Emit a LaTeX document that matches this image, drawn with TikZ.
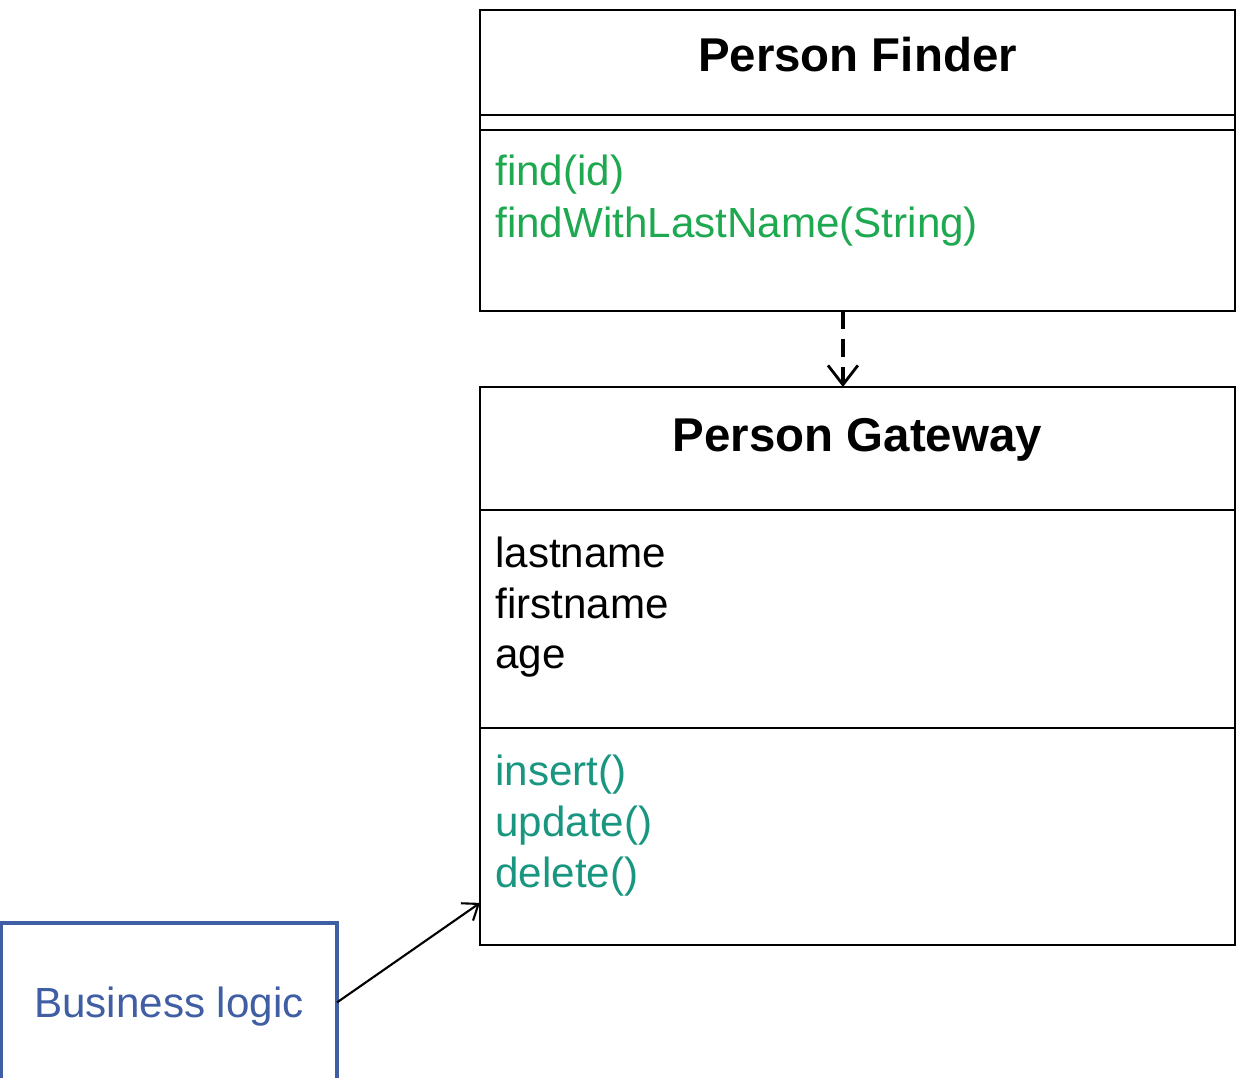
\documentclass[tikz,border=0pt]{standalone}
\usepackage{fontspec}
\setmainfont{Liberation Sans}
\usetikzlibrary{positioning,arrows.meta}

\definecolor{opgreen}{RGB}{30,168,80}
\definecolor{opteal}{RGB}{24,150,128}
\definecolor{logicblue}{RGB}{64,94,164}

\tikzset{
    part/.style={draw, line width=1.4pt, rectangle, inner sep=0pt, outer sep=0pt,
        minimum width=15.1cm},
    title/.style={anchor=base, font=\fontsize{27}{32}\selectfont\bfseries},
    entry/.style={anchor=base west, inner sep=0pt, font=\fontsize{24}{29}\selectfont},
}

\begin{document}
\begin{tikzpicture}[x=0.02cm, y=-0.02cm]

% Fix the page size
\useasboundingbox (0,0) rectangle (1242,1078);

% ===== Person Finder =====
\node[part, minimum height=2.1cm, anchor=north west] (finderTitle) at (480,10) {};
\node[part, minimum height=0.3cm, below=0cm of finderTitle] (finderAttrs) {};
\node[part, minimum height=3.62cm, below=0cm of finderAttrs] (finderOps) {};

% Title
\node[title] (finderName) at (857.5,72) {Person Finder};

% Operations
\node[entry, text=opgreen] (opFind) at (495,186) {find(id)};
\node[entry, text=opgreen] (opFindLast) at (495,237) {findWithLastName(String)};

% ===== Person Gateway =====
\node[part, minimum height=2.46cm, anchor=north west] (gatewayTitle) at (480,387) {};
\node[part, minimum height=4.36cm, below=0cm of gatewayTitle] (gatewayAttrs) {};
\node[part, minimum height=4.34cm, below=0cm of gatewayAttrs] (gatewayOps) {};

% Title
\node[title] (gatewayName) at (857.5,451) {Person Gateway};

% Attributes
\node[entry] (attrLast) at (495,567) {lastname};
\node[entry] (attrFirst) at (495,618) {firstname};
\node[entry] (attrAge) at (495,668) {age};

% Operations
\node[entry, text=opteal] (opInsert) at (495,785) {insert()};
\node[entry, text=opteal] (opUpdate) at (495,836) {update()};
\node[entry, text=opteal] (opDelete) at (495,887) {delete()};

% ===== Business logic =====
\node[draw=logicblue, line width=2.4pt, minimum width=6.72cm, minimum height=3.18cm,
    anchor=north west, inner sep=0pt, outer sep=0pt, text=logicblue, text depth=0pt,
    font=\fontsize{24}{29}\selectfont] (logic) at (1,923) {Business logic};

% ===== Connectors =====
\draw[line width=1.8pt, dash pattern=on 10pt off 6pt,
    -{Straight Barb[length=11pt,width=17pt,line width=1.6pt]}]
    ([xshift=-0.29cm]finderOps.south) -- ([xshift=-0.29cm]gatewayTitle.north);

\draw[line width=1.2pt, -{Straight Barb[length=8pt,width=12pt]}]
    (logic.east) -- ([yshift=0.84cm]gatewayOps.south west);

\end{tikzpicture}
\end{document}
